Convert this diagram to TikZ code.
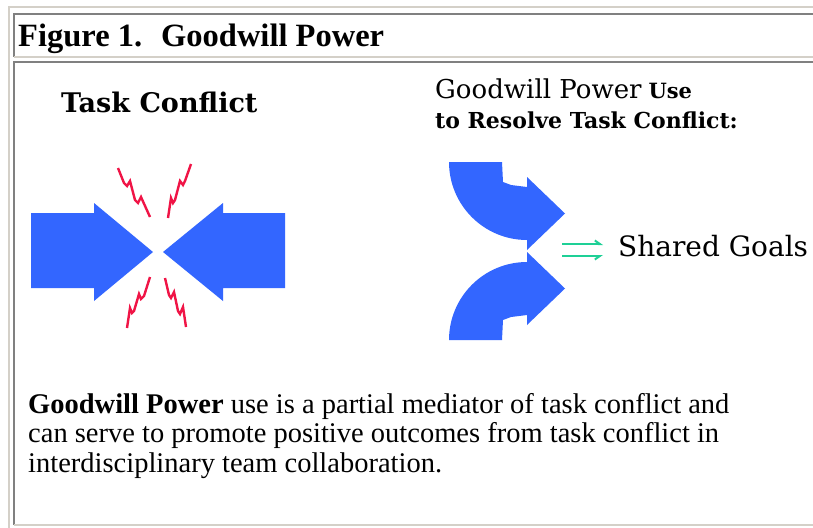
\documentclass[tikz,border=0pt]{standalone}
\usepackage{fontspec}
\setmainfont{Liberation Serif}
\newfontfamily\headfont{DejaVu Serif}
\usepackage{tikz}
\usetikzlibrary{arrows.meta}
\definecolor{arrowblue}{RGB}{51,102,255}
\definecolor{boltred}{RGB}{240,20,70}
\definecolor{goalgreen}{RGB}{30,208,150}
\definecolor{framelight}{RGB}{212,208,200}
\definecolor{framedark}{RGB}{128,128,128}
\tikzstyle{txt} = [inner sep=0pt, anchor=base west]
\tikzstyle{bolt} = [draw=boltred, line width=2.4pt, line join=miter]
\tikzstyle{lightedge} = [draw=framelight, line width=2pt]
\tikzstyle{darkedge} = [draw=framedark, line width=2pt]
\tikzstyle{goalline} = [draw=goalgreen, line width=2pt]
% bent arrow curling from the top into a right-pointing head
\newcommand{\bentarrow}{%
  \fill[arrowblue] (502,162) -- (449,162) arc[start angle=180, end angle=90, radius=78]
    -- (527,250) -- (565,213.5) -- (527,177) -- (527,187)
    -- (511,185) -- (503,182) -- cycle;}

\begin{document}
\begin{tikzpicture}[x=1pt, y=-1pt]
  \useasboundingbox[fill=white] (0,0) rectangle (813,527);

  % table frame
  \draw[lightedge] (9,530) -- (9,7) -- (815,7);
  \draw[darkedge] (14,57) -- (14,14) -- (815,14);
  \draw[lightedge] (14,57) -- (815,57);
  \draw[darkedge] (14,525) -- (14,62) -- (815,62);
  \draw[lightedge] (14,525) -- (815,525);

  \node[txt, font=\fontsize{32.5}{32}\selectfont\bfseries] (title) at (18,46)
    {Figure 1.\hspace{19pt}Goodwill Power};

  % task conflict
  \node[txt, font=\headfont\fontsize{27}{27}\selectfont\bfseries] (taskconflict) at (61,112) {Task Conflict};
  \fill[arrowblue] (31,213) -- (94,213) -- (94,203) -- (153,252) -- (94,301) -- (94,288) -- (31,288) -- cycle;
  \fill[arrowblue] (285,213) -- (223,213) -- (223,203) -- (163,252) -- (223,301) -- (223,288) -- (285,288) -- cycle;
  \draw[bolt] (118,168) -- (124,183) -- (127,186) -- (130,181) -- (135,200) -- (138,203) -- (141,197) -- (150,217);
  \draw[bolt] (191,164) -- (185,181) -- (183,185) -- (180,181) -- (175,200) -- (173,203) -- (171,198) -- (168,218);
  \draw[bolt] (150,277) -- (144,296) -- (141,299) -- (139,294) -- (134,311) -- (132,313) -- (130,308) -- (127,328);
  \draw[bolt] (165,278) -- (169,295) -- (171,298) -- (174,292) -- (178,311) -- (180,314) -- (183,307) -- (186,327);

  % goodwill power use
  \node[txt] (gwuse) at (435,98)
    {{\headfont\fontsize{26}{26}\selectfont Goodwill Power}\hspace{7pt}{\headfont\fontsize{21}{21}\selectfont\bfseries Use}};
  \node[txt, font=\headfont\fontsize{22}{22}\selectfont\bfseries] (resolve) at (435,128) {to Resolve Task Conflict:};
  \bentarrow
  \begin{scope}[shift={(0,502)}, yscale=-1]
    \bentarrow
  \end{scope}
  \node[txt, font=\headfont\fontsize{28}{28}\selectfont] (shared) at (618,256) {Shared Goals};
  \coordinate (upA) at (562,244);
  \coordinate (upB) at (603,244);
  \coordinate (loA) at (562,256);
  \coordinate (loB) at (603,256);
  \draw[goalline, -{Straight Barb[harpoon, length=5pt, width=7pt]}] (upA) -- (upB);
  \draw[goalline, -{Straight Barb[harpoon, swap, length=5pt, width=7pt]}] (loA) -- (loB);

  % caption text
  \node[txt, font=\fontsize{28.5}{29}\selectfont] (body1) at (28,413)
    {\textbf{Goodwill Power} use is a partial mediator of task conflict and};
  \node[txt, font=\fontsize{28.5}{29}\selectfont] (body2) at (28,442.5)
    {can serve to promote positive outcomes from task conflict in};
  \node[txt, font=\fontsize{28.5}{29}\selectfont] (body3) at (28,472)
    {interdisciplinary team collaboration.};
\end{tikzpicture}
\end{document}
